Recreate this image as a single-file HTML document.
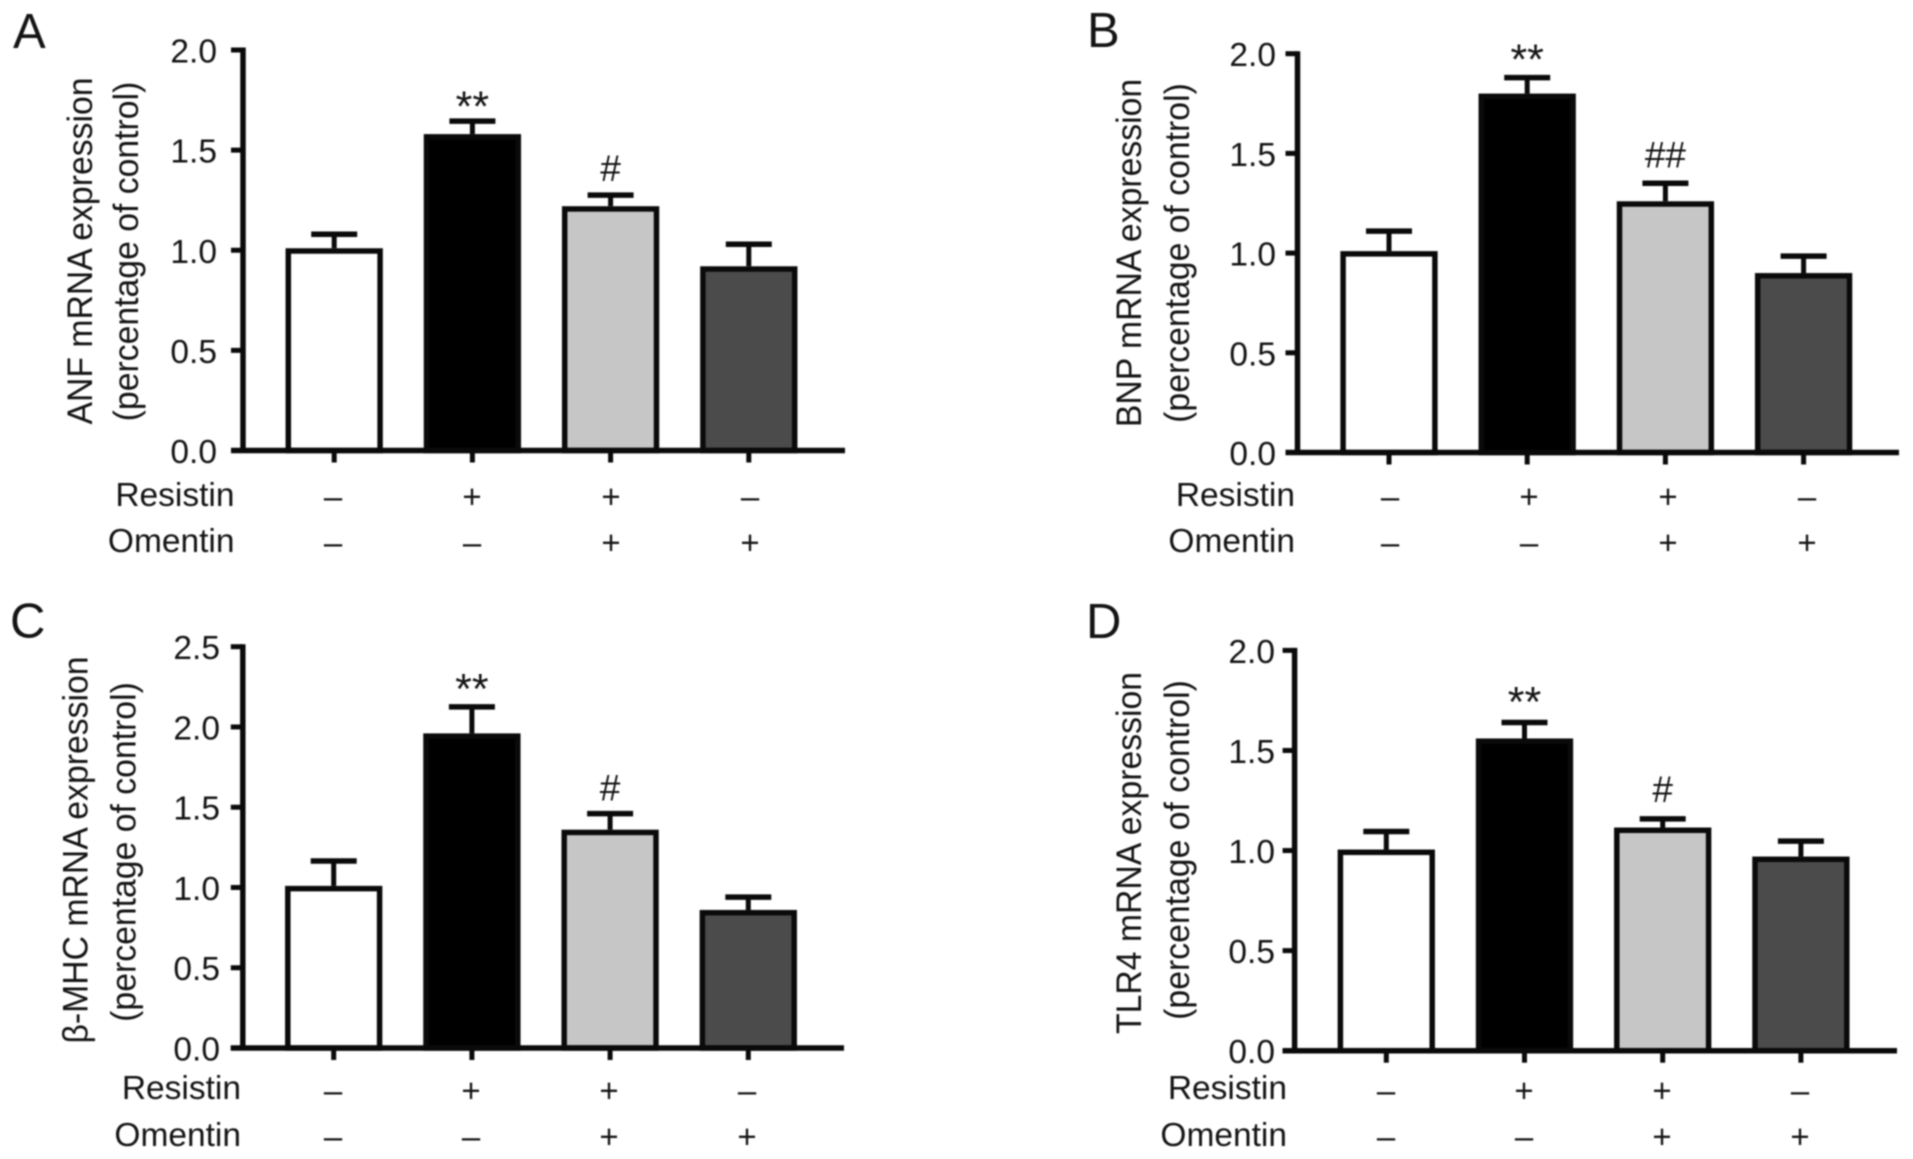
<!DOCTYPE html>
<html lang="en">
<head>
<meta charset="utf-8">
<title>mRNA expression bar charts</title>
<style>
  html, body { margin: 0; padding: 0; background: #fff; }
  body { width: 1913px; height: 1159px; overflow: hidden; }
  svg { display: block; filter: blur(0.7px); }
  text { font-family: "Liberation Sans", "DejaVu Sans", sans-serif; fill: #141414; }
</style>
</head>
<body>
<svg id="figure" xmlns="http://www.w3.org/2000/svg" width="1913" height="1159" viewBox="0 0 1913 1159">
  <g id="panel-a"></g>
  <g id="panel-b"></g>
  <g id="panel-c"></g>
  <g id="panel-d"></g>
</svg>
<script>
// ---- chart data ----
const resistinStates = ['–', '+', '+', '–'];
const omentinStates = ['–', '–', '+', '+'];
const rowLabels = ['Resistin', 'Omentin'];
const barFills = ['#ffffff', '#000000', '#c6c6c6', '#4b4b4b'];

const ticksTwo = [0, 0.5, 1.0, 1.5, 2.0];
const ticksTwoHalf = [0, 0.5, 1.0, 1.5, 2.0, 2.5];

const anfMeans = [1.01, 1.58, 1.22, 0.92];
const anfErrors = [0.07, 0.065, 0.055, 0.11];
const anfMarks = ['', '**', '#', ''];

const bnpMeans = [1.01, 1.80, 1.26, 0.90];
const bnpErrors = [0.10, 0.08, 0.09, 0.085];
const bnpMarks = ['', '**', '##', ''];

const mhcMeans = [1.01, 1.96, 1.36, 0.86];
const mhcErrors = [0.155, 0.165, 0.10, 0.08];
const mhcMarks = ['', '**', '#', ''];

const tlrMeans = [1.005, 1.56, 1.115, 0.97];
const tlrErrors = [0.09, 0.08, 0.043, 0.077];
const tlrMarks = ['', '**', '#', ''];

// ---- panel definitions: data references plus layout ----
const panels = [
  { id: 'panel-a', letter: 'A', letterX: 13, letterY: 48, titles: ['ANF mRNA expression', '(percentage of control)'],
    means: anfMeans, errors: anfErrors, marks: anfMarks, ticks: ticksTwo,
    axisX: 243, axisEnd: 845, y0: 450.5, yTop: 50, cx0: 334.2, step: 138.2,
    titleX: [92, 138], titleY: [251, 251.5], tickRight: 217, starGap: 24.5, hashGap: 27,
    rowRight: 234.5, rowY: [497, 543], signY: [497, 543], signX0: 333, signStep: 139 },
  { id: 'panel-b', letter: 'B', letterX: 1087, letterY: 47, titles: ['BNP mRNA expression', '(percentage of control)'],
    means: bnpMeans, errors: bnpErrors, marks: bnpMarks, ticks: ticksTwo,
    axisX: 1297.5, axisEnd: 1899, y0: 452.5, yTop: 53.7, cx0: 1389, step: 138.2,
    titleX: [1141, 1189], titleY: [253, 253], tickRight: 1276, starGap: 28, hashGap: 29,
    rowRight: 1295, rowY: [497, 543], signY: [497, 543], signX0: 1390, signStep: 139 },
  { id: 'panel-c', letter: 'C', letterX: 10, letterY: 637.4, titles: ['β-MHC mRNA expression', '(percentage of control)'],
    means: mhcMeans, errors: mhcErrors, marks: mhcMarks, ticks: ticksTwoHalf,
    axisX: 242.8, axisEnd: 844, y0: 1048, yTop: 646.7, cx0: 333.7, step: 138.2,
    titleX: [87.5, 135.5], titleY: [850, 852], tickRight: 220, starGap: 28, hashGap: 26,
    rowRight: 241, rowY: [1090, 1137], signY: [1091, 1137], signX0: 333, signStep: 138 },
  { id: 'panel-d', letter: 'D', letterX: 1086, letterY: 638, titles: ['TLR4 mRNA expression', '(percentage of control)'],
    means: tlrMeans, errors: tlrErrors, marks: tlrMarks, ticks: ticksTwo,
    axisX: 1294.6, axisEnd: 1897, y0: 1050.7, yTop: 650.4, cx0: 1386.3, step: 138.2,
    titleX: [1141, 1189], titleY: [853, 850], tickRight: 1275, starGap: 30.5, hashGap: 30,
    rowRight: 1287, rowY: [1090, 1137], signY: [1091, 1137], signX0: 1386, signStep: 138 }
];

const SVG_NS = 'http://www.w3.org/2000/svg';
const INK = '#0a0a0a';

function mk(tag, parent, attrs) {
  const el = document.createElementNS(SVG_NS, tag);
  Object.keys(attrs).forEach(function (k) { el.setAttribute(k, attrs[k]); });
  parent.appendChild(el);
  return el;
}

function drawPanel(p) {
  const root = document.getElementById(p.id);
  const maxTick = p.ticks[p.ticks.length - 1];
  const yScale = function (v) { return p.y0 - (v / maxTick) * (p.y0 - p.yTop); };
  const xScale = function (i) { return p.cx0 + i * p.step; };
  const signScale = function (i) { return p.signX0 + i * p.signStep; };

  const letter = mk('text', root, { x: p.letterX, y: p.letterY, 'font-size': 49 });
  letter.textContent = p.letter;
  
  

  p.titles.forEach(function (t, i) {
    const title = mk('text', root, {
      transform: 'translate(' + p.titleX[i] + ' ' + p.titleY[i] + ') rotate(-90) scale(0.965 1)',
      'text-anchor': 'middle', 'font-size': 35, x: 0, y: 0
    });
    title.textContent = t;
    
    
  });

  // error bars first, so bars sit on top of the stem
  p.means.forEach(function (m, i) {
    const cx = xScale(i);
    const top = yScale(m + p.errors[i]);
    const stem = mk('line', root, { x1: cx, x2: cx, y1: yScale(m), y2: top, stroke: INK, 'stroke-width': 5 });
    
    
    const cap = mk('line', root, { x1: cx - 23, x2: cx + 23, y1: top, y2: top, stroke: INK, 'stroke-width': 5.5 });
    
    
  });

  p.means.forEach(function (m, i) {
    const cx = xScale(i);
    const yv = yScale(m);
    const bar = mk('rect', root, {
      x: cx - 45.9, y: yv + 2.75, width: 91.8, height: Math.max(0, p.y0 - yv - 2.75),
      fill: barFills[i], stroke: INK, 'stroke-width': 5.5
    });
    
    
  });

  // y axis, ticks and labels
  const yAxis = mk('line', root, { x1: p.axisX, x2: p.axisX, y1: p.yTop - 2.5, y2: p.y0, stroke: INK, 'stroke-width': 5.5 });
  
  

  p.ticks.forEach(function (t) {
    const yt = yScale(t);
    const tick = mk('line', root, { x1: p.axisX - 12, x2: p.axisX, y1: yt, y2: yt, stroke: INK, 'stroke-width': 5 });
    
    
    const label = mk('text', root, { x: p.tickRight, y: yt + 12.5, 'text-anchor': 'end', 'font-size': 33.5 });
    label.textContent = t.toFixed(1);
    
    
  });

  // x axis and ticks
  const xAxis = mk('line', root, { x1: p.axisX - 12, x2: p.axisEnd, y1: p.y0, y2: p.y0, stroke: INK, 'stroke-width': 5.5 });
  
  

  p.means.forEach(function (m, i) {
    const cx = xScale(i);
    const xt = mk('line', root, { x1: cx, x2: cx, y1: p.y0, y2: p.y0 + 12, stroke: INK, 'stroke-width': 5 });
    
    
  });

  // significance marks
  p.marks.forEach(function (mark, i) {
    if (!mark) { return; }
    const isStar = mark.charAt(0) === '*';
    const center = yScale(p.means[i] + p.errors[i]) - (isStar ? p.starGap : p.hashGap);
    const size = isStar ? 43 : 37;
    const sig = mk('text', root, {
      x: xScale(i), y: center + (isStar ? 0.57 : 0.35) * size,
      'text-anchor': 'middle', 'font-size': size
    });
    sig.textContent = mark;
    
    
  });

  // treatment rows
  [resistinStates, omentinStates].forEach(function (states, r) {
    const rowLabel = mk('text', root, { x: p.rowRight, y: p.rowY[r] + 9, 'text-anchor': 'end', 'font-size': 33.5 });
    rowLabel.textContent = rowLabels[r];
    
    
    states.forEach(function (s, i) {
      const sign = mk('text', root, { x: signScale(i), y: p.signY[r] + 11, 'text-anchor': 'middle', 'font-size': 33 });
      sign.textContent = s;
      
      
    });
  });
}

panels.forEach(drawPanel);
</script>
</body>
</html>
